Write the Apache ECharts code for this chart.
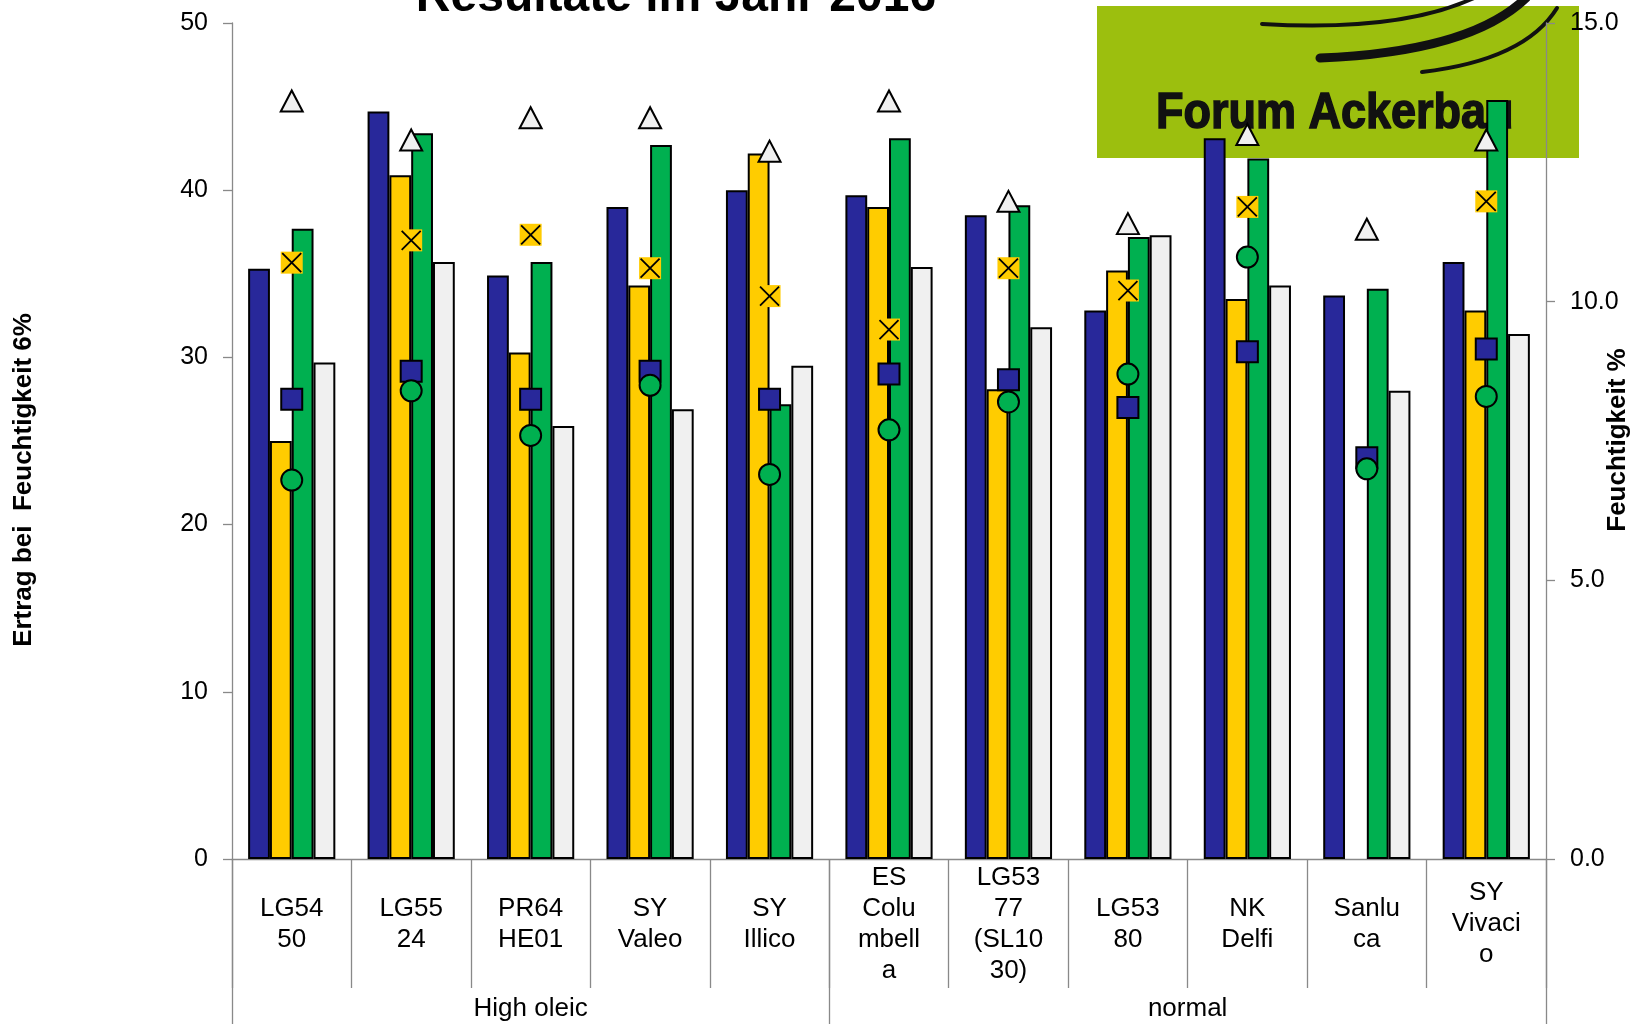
<!DOCTYPE html>
<html>
<head>
<meta charset="utf-8">
<script src="https://cdn.jsdelivr.net/npm/echarts@6/dist/echarts.min.js"></script>
<style>
html,body{margin:0;padding:0;background:#fff;}
#chart{width:1630px;height:1024px;}
</style>
</head>
<body>
<div id="chart"></div>
<script>
// ---- data ----
const categories = ['LG54\n50','LG55\n24','PR64\nHE01','SY\nValeo','SY\nIllico','ES\nColu\nmbell\na','LG53\n77\n(SL10\n30)','LG53\n80','NK\nDelfi','Sanlu\nca','SY\nVivaci\no'];
const groups = ['High oleic','normal'];
const groupSizes = [5, 6];

// yields (left axis)
const yieldBlue   = [35.3, 44.7, 34.9, 39.0, 40.0, 39.7, 38.5, 32.8, 43.1, 33.7, 35.7];
const yieldYellow = [25.0, 40.9, 30.3, 34.3, 42.2, 39.0, 28.1, 35.2, 33.5, null, 32.8];
const yieldGreen  = [37.7, 43.4, 35.7, 42.7, 27.2, 43.1, 39.1, 37.2, 41.9, 34.1, 45.4];
const yieldGray   = [29.7, 35.7, 25.9, 26.9, 29.5, 35.4, 31.8, 37.3, 34.3, 28.0, 31.4];

// moisture % (right axis)
const moistSquare   = [8.25, 8.75, 8.25, 8.75, 8.25, 8.7, 8.6, 8.1, 9.1, 7.2, 9.15];
const moistCircle   = [6.8, 8.4, 7.6, 8.5, 6.9, 7.7, 8.2, 8.7, 10.8, 7.0, 8.3];
const moistCross    = [10.7, 11.1, 11.2, 10.6, 10.1, 9.5, 10.6, 10.2, 11.7, null, 11.8];
const moistTriangle = [13.6, 12.9, 13.3, 13.3, 12.7, 13.6, 11.8, 11.4, 13.0, 11.3, 12.9];

const leftTicks = {min: 0, max: 50, interval: 10};
const rightTicks = {min: 0, max: 15, interval: 5};

// ---- build ----
const fam = "'Liberation Sans', Arial, sans-serif";
const axisGray = '#898989';
const toD = a => a.map(v => v == null ? '-' : v);

const bounds = [0];
groupSizes.forEach(s => bounds.push(bounds[bounds.length - 1] + s));
const centers = groupSizes.map((s, i) => bounds[i] + s / 2);

const barStyle = c => ({color: c, borderColor: '#000', borderWidth: 2});
function barSeries(name, data, color) {
  return {name, type: 'bar', xAxisIndex: 0, yAxisIndex: 0, data: toD(data),
    barGap: '0%', barCategoryGap: '27%', itemStyle: barStyle(color), z: 2};
}
function markSeries(name, data, symbol, size, style, z) {
  return {name, type: 'scatter', xAxisIndex: 0, yAxisIndex: 1, data: toD(data),
    symbol, symbolSize: size, itemStyle: Object.assign({opacity: 1}, style), z: z || 3};
}

const chart = echarts.init(document.getElementById('chart'), null, {renderer: 'canvas'});
chart.setOption({
  animation: false,
  backgroundColor: '#fff',
  grid: {left: 232, right: 84, top: 23, bottom: 165, containLabel: false},
  xAxis: [
    {type: 'category', data: categories, position: 'bottom',
     axisLine: {show: true, lineStyle: {color: axisGray, width: 1.3}},
     axisTick: {show: true, interval: 0, length: 129, lineStyle: {color: axisGray, width: 1.3}},
     axisLabel: {interval: 0, margin: 65, verticalAlign: 'middle', lineHeight: 31,
       fontSize: 26, fontFamily: fam, color: '#000'},
     splitLine: {show: false}},
    {type: 'value', min: 0, max: categories.length, position: 'bottom',
     axisLine: {show: false},
     axisTick: {show: true, customValues: bounds, length: 175, lineStyle: {color: axisGray, width: 1.3}},
     axisLabel: {customValues: centers, margin: 150, verticalAlign: 'middle',
       formatter: v => { const i = centers.indexOf(v); return i >= 0 ? groups[i] : ''; },
       fontSize: 26, fontFamily: fam, color: '#000'},
     splitLine: {show: false}}
  ],
  yAxis: [
    {type: 'value', position: 'left', min: leftTicks.min, max: leftTicks.max, interval: leftTicks.interval,
     axisLine: {show: true, lineStyle: {color: axisGray, width: 1.3}},
     axisTick: {show: true, length: 9, lineStyle: {color: axisGray, width: 1.3}},
     axisLabel: {margin: 24, fontSize: 25, fontFamily: fam, color: '#000'},
     splitLine: {show: false}},
    {type: 'value', position: 'right', min: rightTicks.min, max: rightTicks.max, interval: rightTicks.interval,
     axisLine: {show: true, lineStyle: {color: axisGray, width: 1.3}},
     axisTick: {show: true, length: 9, lineStyle: {color: axisGray, width: 1.3}},
     axisLabel: {margin: 24, fontSize: 25, fontFamily: fam, color: '#000', formatter: v => v.toFixed(1)},
     splitLine: {show: false}}
  ],
  graphic: [
    // logo (background)
    {type: 'group', z: -10, children: [
      {type: 'rect', shape: {x: 1097, y: 6, width: 482, height: 152}, style: {fill: '#9cbf0e'}, z: -10},
      {type: 'bezierCurve', shape: {x1: 1262, y1: 24, cpx1: 1400, cpy1: 32, x2: 1474, y2: -2},
       style: {stroke: '#111', lineWidth: 4, fill: null, lineCap: 'round'}, z: -9},
      {type: 'bezierCurve', shape: {x1: 1320, y1: 58, cpx1: 1470, cpy1: 52, x2: 1526, y2: -2},
       style: {stroke: '#111', lineWidth: 9, fill: null, lineCap: 'round'}, z: -9},
      {type: 'bezierCurve', shape: {x1: 1422, y1: 72, cpx1: 1525, cpy1: 60, x2: 1557, y2: 8},
       style: {stroke: '#111', lineWidth: 4, fill: null, lineCap: 'round'}, z: -9},
      {type: 'text', x: 1156, y: 114, scaleX: 0.9, z: -9,
       style: {text: 'Forum Ackerbau', fontSize: 50, fontWeight: 'bold', fontFamily: fam,
         fill: '#111', stroke: '#111', lineWidth: 1.5, align: 'left', verticalAlign: 'middle'}}
    ]},
    // title
    {type: 'text', x: 676, y: 22, z: 10,
     style: {text: 'Resultate im Jahr 2016', fontSize: 48, fontWeight: 'bold', fontFamily: fam,
       fill: '#000', align: 'center', verticalAlign: 'bottom'}},
    // axis titles
    {type: 'text', x: 24, y: 480, rotation: Math.PI / 2, z: 10,
     style: {text: 'Ertrag bei  Feuchtigkeit 6%', fontSize: 26, fontWeight: 'bold', fontFamily: fam,
       fill: '#000', align: 'center', verticalAlign: 'middle'}},
    {type: 'text', x: 1618, y: 440, rotation: Math.PI / 2, z: 10,
     style: {text: 'Feuchtigkeit %', fontSize: 26, fontWeight: 'bold', fontFamily: fam,
       fill: '#000', align: 'center', verticalAlign: 'middle'}}
  ],
  series: [
    barSeries('Ertrag A', yieldBlue, '#28289a'),
    barSeries('Ertrag B', yieldYellow, '#ffcc00'),
    barSeries('Ertrag C', yieldGreen, '#00b050'),
    barSeries('Ertrag D', yieldGray, '#f0f0f0'),
    markSeries('Feuchtigkeit A', moistSquare, 'rect', 21, {color: '#28289a', borderColor: '#000', borderWidth: 2}, 4),
    markSeries('Feuchtigkeit C', moistCircle, 'circle', 21, {color: '#00b050', borderColor: '#000', borderWidth: 2}, 5),
    markSeries('Feuchtigkeit B', moistCross, 'rect', 22, {color: '#ffcc00', borderWidth: 0}, 6),
    markSeries('Feuchtigkeit B x', moistCross, 'path://M0 0L10 10M10 0L0 10', 19, {color: 'transparent', borderColor: '#000', borderWidth: 1.8}, 7),
    markSeries('Feuchtigkeit D', moistTriangle, 'triangle', [22, 21], {color: '#f0f0f0', borderColor: '#000', borderWidth: 2}, 8)
  ]
});
</script>
</body>
</html>
